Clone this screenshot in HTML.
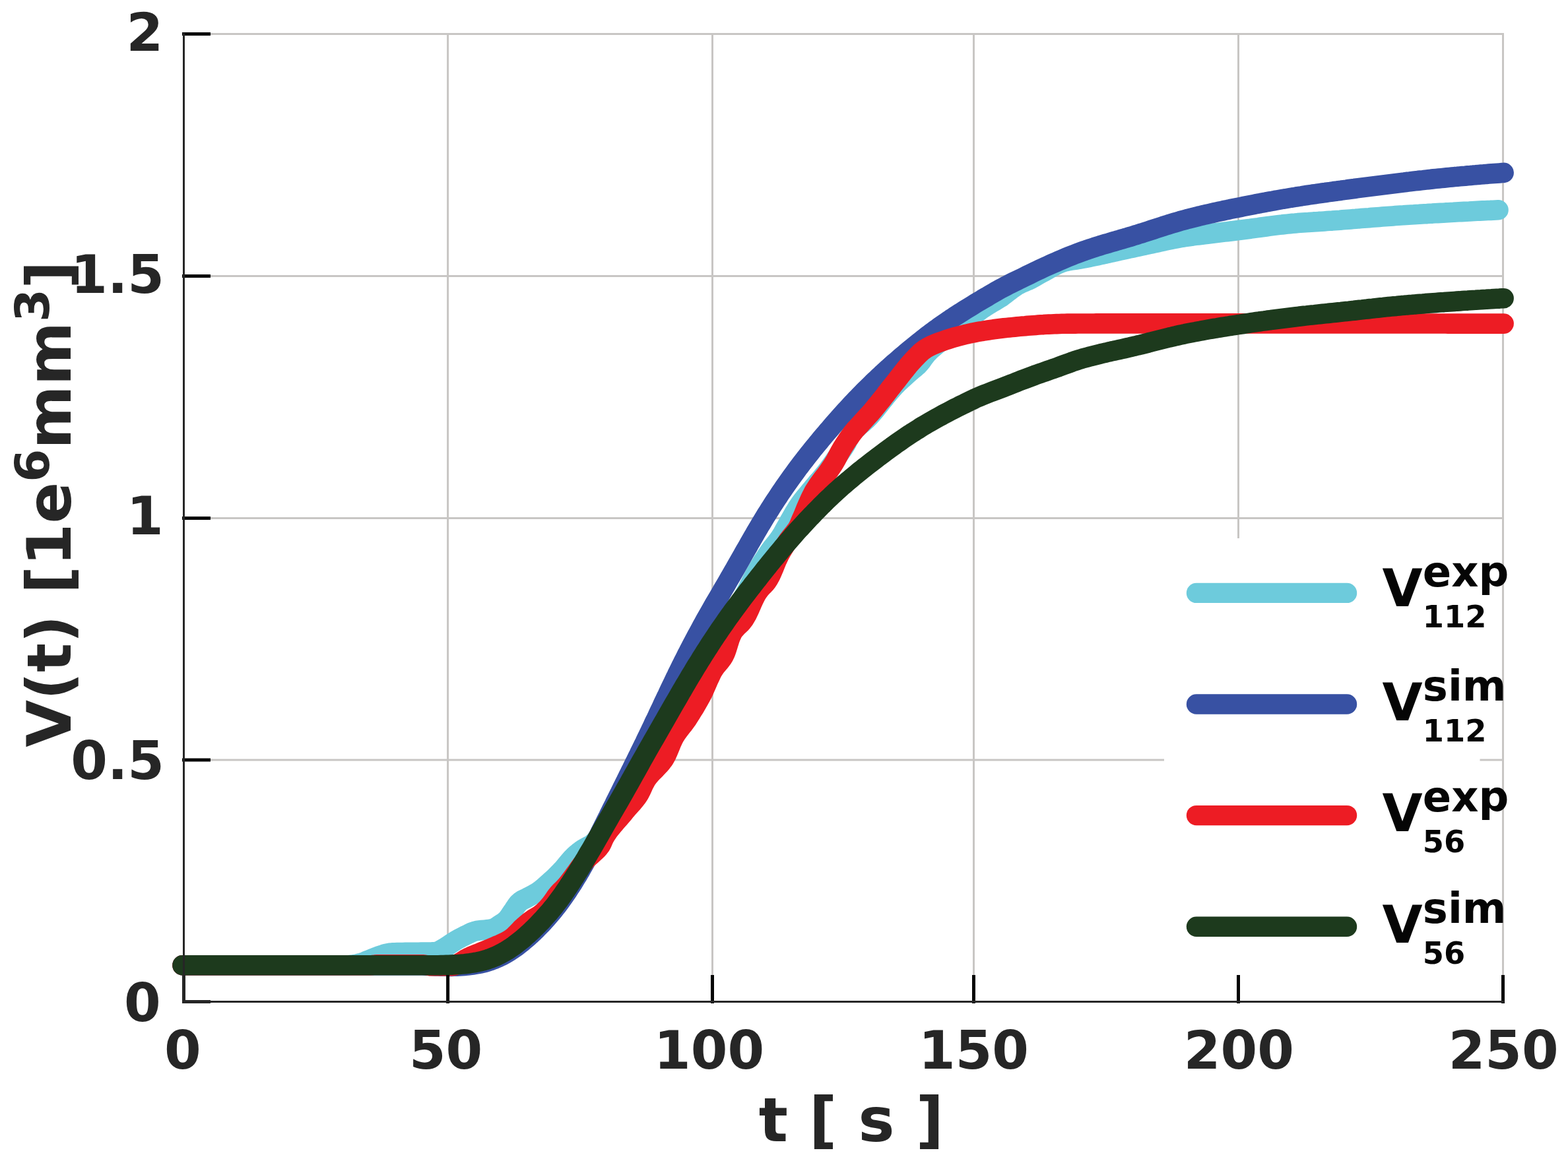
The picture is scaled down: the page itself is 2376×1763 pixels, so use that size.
<!DOCTYPE html>
<html lang="en"><head><meta charset="utf-8"><title>V(t) [1e6 mm3] over t [ s ]</title>
<style>
html,body{margin:0;padding:0;background:#fff;}
body{width:2376px;height:1763px;overflow:hidden;}
svg{display:block;}
text{font-family:"DejaVu Sans","Liberation Sans",sans-serif;font-weight:bold;}
.tl{font-size:80px;fill:#262626;}
.al{font-size:92.5px;fill:#262626;}
.lg{font-size:79px;fill:#050505;}
.crv{fill:none;stroke-width:30.6;stroke-linecap:round;stroke-linejoin:round;}
</style></head><body>
<svg xmlns="http://www.w3.org/2000/svg" width="2376" height="1763" viewBox="0 0 2376 1763">
<rect width="2376" height="1763" fill="#fff"/>
<g stroke="#c8c6c4" stroke-width="3" fill="none">
<line x1="278.5" y1="50.0" x2="278.5" y2="1518.5"/>
<line x1="678.6" y1="50.0" x2="678.6" y2="1518.5"/>
<line x1="1079.5" y1="50.0" x2="1079.5" y2="1518.5"/>
<line x1="1475.5" y1="50.0" x2="1475.5" y2="1518.5"/>
<line x1="1876.5" y1="50.0" x2="1876.5" y2="1518.5"/>
<line x1="2277.5" y1="50.0" x2="2277.5" y2="1518.5"/>
<line x1="278.5" y1="1518.5" x2="2279.0" y2="1518.5"/>
<line x1="278.5" y1="1152.0" x2="2279.0" y2="1152.0"/>
<line x1="278.5" y1="785.4" x2="2279.0" y2="785.4"/>
<line x1="278.5" y1="418.4" x2="2279.0" y2="418.4"/>
<line x1="278.5" y1="51.5" x2="2279.0" y2="51.5"/>
</g>
<g class="crv">
<path stroke="#6dcbdc" d="M276.5,1463.3 L400.0,1463.3 L525.0,1463.3 L529.0,1463.1 L533.0,1462.8 L537.0,1462.2 L540.9,1461.4 L544.8,1460.5 L548.6,1459.4 L552.4,1458.0 L556.1,1456.4 L559.8,1455.0 L563.6,1453.4 L567.3,1451.9 L571.0,1450.4 L574.8,1449.1 L578.6,1447.9 L582.4,1446.6 L586.3,1445.5 L590.3,1444.8 L594.2,1444.4 L598.2,1444.3 L602.2,1444.1 L606.2,1444.0 L610.2,1444.0 L614.2,1443.9 L618.3,1443.8 L622.3,1443.8 L626.3,1443.7 L630.3,1443.7 L634.3,1443.7 L638.3,1443.6 L642.3,1443.6 L646.3,1443.6 L650.3,1443.5 L654.4,1443.4 L658.4,1443.2 L662.3,1442.8 L666.0,1441.3 L669.5,1439.2 L673.0,1437.3 L676.4,1435.1 L679.7,1432.9 L683.1,1430.7 L686.4,1428.5 L689.8,1426.3 L693.3,1424.3 L696.8,1422.3 L700.3,1420.5 L703.9,1418.7 L707.5,1417.0 L711.2,1415.1 L714.8,1413.4 L718.6,1412.0 L722.4,1411.0 L726.3,1410.5 L730.3,1410.0 L734.3,1409.6 L738.4,1409.1 L742.4,1408.7 L746.3,1408.1 L749.9,1406.7 L753.3,1404.5 L756.7,1402.2 L760.2,1400.0 L763.6,1397.8 L766.6,1395.3 L769.3,1392.5 L771.7,1389.3 L773.9,1385.9 L776.1,1382.5 L778.5,1379.2 L780.7,1375.7 L783.0,1372.3 L785.5,1369.2 L788.3,1366.6 L791.6,1364.5 L795.2,1362.7 L798.9,1360.9 L802.5,1359.0 L806.0,1357.1 L809.6,1355.2 L813.0,1353.3 L816.4,1351.1 L819.6,1348.7 L822.7,1346.2 L825.7,1343.6 L828.8,1340.9 L831.8,1338.2 L834.7,1335.5 L837.7,1332.8 L840.6,1330.1 L843.5,1327.3 L846.3,1324.4 L849.1,1321.6 L851.9,1318.7 L854.5,1315.7 L857.1,1312.6 L859.7,1309.4 L862.3,1306.3 L864.9,1303.3 L867.6,1300.3 L870.3,1297.5 L873.3,1294.8 L876.4,1292.3 L879.6,1289.9 L882.9,1287.6 L886.3,1285.5 L889.9,1283.6 L893.6,1281.8 L896.8,1279.7 L899.5,1277.3 L902.1,1274.7 L904.6,1271.9 L907.0,1268.9 L909.2,1265.8 L911.4,1262.5 L913.5,1259.1 L915.5,1255.6 L917.5,1251.9 L919.4,1248.3 L921.3,1244.5 L923.2,1240.8 L925.1,1237.0 L926.9,1233.2 L928.8,1229.4 L930.7,1225.6 L932.6,1221.9 L934.6,1218.3 L936.6,1214.7 L938.6,1211.3 L940.7,1207.9 L942.8,1204.5 L944.9,1201.0 L947.0,1197.6 L949.1,1194.2 L951.2,1190.8 L953.3,1187.3 L955.3,1183.9 L957.4,1180.5 L959.5,1177.1 L961.6,1173.7 L963.7,1170.2 L965.8,1166.8 L967.9,1163.4 L969.9,1160.0 L972.0,1156.6 L974.1,1153.1 L976.2,1149.7 L978.3,1146.3 L980.4,1142.9 L982.4,1139.4 L984.5,1136.0 L986.6,1132.6 L988.7,1129.2 L990.8,1125.7 L992.9,1122.3 L994.9,1118.9 L997.0,1115.5 L999.1,1112.0 L1001.2,1108.6 L1003.3,1105.2 L1005.3,1101.8 L1007.4,1098.3 L1009.5,1094.9 L1011.6,1091.5 L1013.7,1088.1 L1015.8,1084.7 L1017.8,1081.2 L1019.9,1077.8 L1022.0,1074.4 L1024.1,1071.0 L1026.2,1067.5 L1028.3,1064.1 L1030.3,1060.7 L1032.4,1057.3 L1034.5,1053.8 L1036.6,1050.4 L1038.7,1047.0 L1040.8,1043.6 L1042.9,1040.2 L1044.9,1036.7 L1047.0,1033.3 L1049.1,1029.9 L1051.2,1026.5 L1053.3,1023.1 L1055.4,1019.6 L1057.5,1016.2 L1059.5,1012.8 L1061.6,1009.4 L1063.7,1005.9 L1065.8,1002.5 L1067.9,999.1 L1070.0,995.7 L1072.0,992.2 L1074.1,988.8 L1076.2,985.4 L1078.3,982.0 L1080.3,978.5 L1082.4,975.1 L1084.5,971.7 L1086.6,968.3 L1088.7,964.8 L1090.8,961.4 L1092.9,958.0 L1095.0,954.6 L1097.1,951.2 L1099.2,947.8 L1101.3,944.4 L1103.4,941.0 L1105.5,937.6 L1107.7,934.2 L1109.9,930.8 L1112.1,927.5 L1114.3,924.1 L1116.5,920.8 L1118.7,917.4 L1120.8,914.0 L1123.0,910.6 L1125.1,907.2 L1127.1,903.8 L1129.1,900.3 L1131.0,896.8 L1132.9,893.3 L1134.7,889.7 L1136.5,886.1 L1138.2,882.5 L1140.0,878.9 L1141.8,875.3 L1143.7,871.8 L1145.7,868.3 L1147.7,864.8 L1149.7,861.4 L1151.8,857.9 L1153.9,854.5 L1156.0,851.1 L1158.2,847.7 L1160.4,844.4 L1162.6,841.0 L1164.8,837.7 L1167.1,834.5 L1169.5,831.2 L1172.0,828.1 L1174.5,824.9 L1177.0,821.8 L1179.4,818.6 L1181.8,815.3 L1184.0,812.0 L1186.1,808.6 L1188.0,805.1 L1189.9,801.6 L1191.9,798.1 L1193.9,794.6 L1195.8,791.1 L1197.8,787.6 L1199.8,784.1 L1201.8,780.6 L1203.8,777.1 L1205.9,773.7 L1208.0,770.3 L1210.2,767.0 L1212.4,763.7 L1214.8,760.5 L1217.2,757.3 L1219.7,754.2 L1222.3,751.1 L1224.8,748.0 L1227.4,744.9 L1230.0,741.8 L1232.6,738.7 L1235.1,735.7 L1237.7,732.6 L1240.4,729.6 L1243.0,726.5 L1245.6,723.5 L1248.2,720.4 L1250.7,717.3 L1253.2,714.2 L1255.6,711.0 L1258.0,707.8 L1260.3,704.5 L1262.6,701.2 L1264.9,698.0 L1267.2,694.7 L1269.5,691.4 L1271.9,688.1 L1274.2,684.8 L1276.5,681.5 L1278.7,678.2 L1280.8,674.8 L1282.8,671.3 L1284.6,667.7 L1286.4,664.1 L1288.3,660.6 L1290.5,657.3 L1293.0,654.3 L1295.7,651.4 L1298.6,648.7 L1301.6,646.0 L1304.7,643.3 L1307.8,640.7 L1310.8,638.0 L1313.8,635.2 L1316.6,632.4 L1319.3,629.4 L1321.9,626.4 L1324.5,623.4 L1327.1,620.3 L1329.6,617.2 L1332.1,614.0 L1334.6,610.9 L1337.1,607.7 L1339.6,604.6 L1342.1,601.4 L1344.6,598.3 L1347.2,595.2 L1349.8,592.2 L1352.4,589.2 L1355.1,586.2 L1357.9,583.3 L1360.7,580.5 L1363.6,577.7 L1366.5,575.0 L1369.5,572.3 L1372.5,569.6 L1375.5,566.9 L1378.5,564.3 L1381.5,561.6 L1384.6,559.1 L1387.7,556.5 L1390.7,553.8 L1393.4,551.0 L1395.9,547.9 L1398.3,544.6 L1400.6,541.3 L1403.1,538.1 L1405.7,535.1 L1408.5,532.3 L1411.4,529.5 L1414.4,526.9 L1417.5,524.3 L1420.5,521.7 L1423.6,519.1 L1426.7,516.6 L1429.9,514.1 L1433.0,511.6 L1436.2,509.2 L1439.4,506.7 L1442.6,504.3 L1445.7,501.8 L1448.9,499.4 L1452.1,496.9 L1455.2,494.4 L1458.4,491.9 L1461.5,489.4 L1464.6,486.9 L1467.7,484.3 L1470.8,481.8 L1474.0,479.3 L1477.1,476.8 L1480.3,474.3 L1483.4,471.9 L1486.7,469.5 L1489.9,467.2 L1493.2,465.0 L1496.6,462.8 L1500.0,460.8 L1503.5,458.7 L1506.9,456.7 L1510.4,454.6 L1513.8,452.5 L1517.2,450.4 L1520.4,448.0 L1523.7,445.6 L1526.8,443.1 L1530.0,440.7 L1533.2,438.2 L1536.5,435.9 L1539.8,433.6 L1543.2,431.6 L1546.7,429.8 L1550.4,428.2 L1554.1,426.6 L1557.8,425.1 L1561.4,423.4 L1565.0,421.5 L1568.5,419.6 L1571.9,417.5 L1575.4,415.5 L1578.9,413.6 L1582.5,411.7 L1586.0,409.7 L1589.5,407.7 L1593.1,405.7 L1596.6,403.7 L1600.2,401.9 L1603.9,400.1 L1607.5,398.6 L1611.2,397.3 L1615.0,396.3 L1618.8,395.4 L1622.8,394.7 L1626.8,394.1 L1630.8,393.5 L1634.8,392.9 L1638.7,392.2 L1642.7,391.5 L1646.6,390.7 L1650.5,389.9 L1654.5,389.1 L1658.4,388.3 L1662.3,387.5 L1666.2,386.6 L1670.1,385.8 L1674.0,384.9 L1678.0,384.1 L1681.9,383.2 L1685.8,382.3 L1689.7,381.4 L1693.6,380.6 L1697.5,379.7 L1701.4,378.8 L1705.3,378.0 L1709.3,377.1 L1713.2,376.2 L1717.1,375.4 L1721.0,374.6 L1724.9,373.8 L1728.9,372.9 L1732.8,372.1 L1736.7,371.2 L1740.6,370.3 L1744.5,369.5 L1748.4,368.6 L1752.4,367.7 L1756.3,366.9 L1760.2,366.0 L1764.1,365.2 L1768.0,364.3 L1772.0,363.5 L1775.9,362.7 L1779.8,362.0 L1783.8,361.2 L1787.7,360.5 L1791.6,359.8 L1795.6,359.2 L1799.5,358.6 L1803.5,358.0 L1807.5,357.5 L1811.4,356.9 L1815.4,356.5 L1819.4,356.0 L1823.4,355.5 L1827.4,355.1 L1831.4,354.6 L1835.3,354.1 L1839.3,353.6 L1843.3,353.1 L1847.3,352.6 L1851.2,352.1 L1855.2,351.6 L1859.2,351.2 L1863.2,350.7 L1867.2,350.2 L1871.1,349.7 L1875.1,349.2 L1879.1,348.7 L1883.1,348.2 L1887.0,347.7 L1891.0,347.2 L1895.0,346.7 L1899.0,346.1 L1902.9,345.6 L1906.9,345.1 L1910.9,344.5 L1914.9,344.0 L1918.8,343.5 L1922.8,342.9 L1926.8,342.4 L1930.8,341.9 L1934.7,341.4 L1938.7,340.9 L1942.7,340.5 L1946.7,340.0 L1950.6,339.6 L1954.6,339.2 L1958.6,338.8 L1962.6,338.5 L1966.6,338.1 L1970.6,337.8 L1974.6,337.5 L1978.6,337.2 L1982.6,337.0 L1986.6,336.7 L1990.6,336.4 L1994.6,336.2 L1998.6,335.9 L2002.6,335.7 L2006.6,335.4 L2010.6,335.1 L2014.6,334.8 L2018.6,334.6 L2022.6,334.3 L2026.6,334.0 L2030.6,333.7 L2034.6,333.3 L2038.6,333.0 L2042.6,332.7 L2046.5,332.4 L2050.5,332.1 L2054.5,331.8 L2058.5,331.4 L2062.5,331.1 L2066.5,330.8 L2070.5,330.5 L2074.5,330.2 L2078.5,329.8 L2082.5,329.5 L2086.5,329.2 L2090.5,328.9 L2094.5,328.6 L2098.5,328.3 L2102.5,328.0 L2106.5,327.7 L2110.5,327.4 L2114.5,327.1 L2118.5,326.8 L2122.5,326.5 L2126.5,326.3 L2130.5,326.0 L2134.5,325.7 L2138.5,325.5 L2142.5,325.3 L2146.5,325.0 L2150.5,324.8 L2154.5,324.5 L2158.5,324.3 L2162.5,324.1 L2166.5,323.8 L2170.5,323.6 L2174.5,323.3 L2178.5,323.1 L2182.5,322.9 L2186.5,322.7 L2190.5,322.4 L2194.5,322.2 L2198.5,322.0 L2202.5,321.8 L2206.5,321.5 L2210.5,321.3 L2214.5,321.1 L2218.5,320.9 L2222.5,320.7 L2226.5,320.5 L2230.5,320.2 L2234.5,320.0 L2238.5,319.8 L2242.5,319.6 L2246.5,319.4 L2250.5,319.2 L2254.5,319.0 L2258.5,318.9 L2262.5,318.7 L2266.5,318.5 L2270.5,318.3"/>
<path stroke="#3851a3" d="M276.5,1463.3 L400.0,1463.3 L560.0,1463.3 L640.0,1463.3 L644.0,1463.5 L648.0,1463.8 L652.0,1464.0 L656.0,1464.2 L660.1,1464.4 L664.1,1464.5 L668.1,1464.7 L672.1,1464.8 L676.1,1464.8 L680.1,1464.9 L684.2,1464.9 L688.2,1464.8 L692.2,1464.7 L696.2,1464.5 L700.2,1464.2 L704.2,1463.9 L708.2,1463.6 L712.2,1463.1 L716.2,1462.6 L720.1,1462.0 L724.1,1461.3 L728.0,1460.5 L731.9,1459.6 L735.8,1458.6 L739.6,1457.4 L743.4,1456.2 L747.1,1454.8 L750.8,1453.3 L754.5,1451.7 L758.1,1450.0 L761.7,1448.2 L765.2,1446.3 L768.6,1444.3 L772.0,1442.2 L775.4,1440.0 L778.7,1437.7 L782.0,1435.4 L785.2,1433.0 L788.4,1430.5 L791.5,1428.0 L794.6,1425.4 L797.7,1422.8 L800.7,1420.2 L803.7,1417.5 L806.6,1414.7 L809.5,1412.0 L812.4,1409.1 L815.2,1406.3 L818.0,1403.4 L820.8,1400.5 L823.6,1397.6 L826.3,1394.6 L829.0,1391.6 L831.6,1388.6 L834.2,1385.5 L836.8,1382.5 L839.3,1379.4 L841.8,1376.2 L844.3,1373.0 L846.7,1369.8 L849.1,1366.6 L851.4,1363.4 L853.8,1360.1 L856.0,1356.8 L858.3,1353.5 L860.5,1350.2 L862.7,1346.8 L864.9,1343.4 L867.1,1340.1 L869.2,1336.7 L871.3,1333.2 L873.4,1329.8 L875.5,1326.4 L877.5,1322.9 L879.6,1319.5 L881.5,1316.0 L883.5,1312.5 L885.5,1309.0 L887.4,1305.5 L889.3,1301.9 L891.2,1298.4 L893.1,1294.8 L894.9,1291.3 L896.8,1287.7 L898.6,1284.2 L900.4,1280.6 L902.2,1277.0 L904.1,1273.4 L905.9,1269.8 L907.7,1266.3 L909.4,1262.7 L911.2,1259.1 L913.0,1255.5 L914.8,1251.9 L916.6,1248.3 L918.4,1244.7 L920.2,1241.1 L922.0,1237.5 L923.7,1233.9 L925.5,1230.3 L927.3,1226.7 L929.1,1223.1 L930.9,1219.5 L932.6,1215.9 L934.4,1212.3 L936.2,1208.8 L938.0,1205.2 L939.8,1201.6 L941.5,1198.0 L943.3,1194.4 L945.1,1190.8 L946.9,1187.2 L948.7,1183.6 L950.4,1180.0 L952.2,1176.4 L954.0,1172.8 L955.8,1169.2 L957.6,1165.6 L959.3,1162.0 L961.1,1158.4 L962.9,1154.8 L964.7,1151.2 L966.4,1147.6 L968.2,1144.0 L969.9,1140.4 L971.7,1136.8 L973.5,1133.2 L975.2,1129.6 L977.0,1126.0 L978.7,1122.4 L980.4,1118.8 L982.2,1115.1 L983.9,1111.5 L985.7,1107.9 L987.4,1104.3 L989.1,1100.7 L990.8,1097.0 L992.5,1093.4 L994.3,1089.8 L996.0,1086.2 L997.7,1082.5 L999.4,1078.9 L1001.1,1075.3 L1002.8,1071.7 L1004.5,1068.0 L1006.2,1064.4 L1007.9,1060.8 L1009.6,1057.1 L1011.4,1053.5 L1013.1,1049.9 L1014.8,1046.2 L1016.5,1042.6 L1018.2,1039.0 L1020.0,1035.4 L1021.7,1031.8 L1023.4,1028.1 L1025.2,1024.5 L1026.9,1020.9 L1028.7,1017.3 L1030.5,1013.7 L1032.2,1010.1 L1034.0,1006.5 L1035.8,1002.9 L1037.6,999.4 L1039.4,995.8 L1041.2,992.2 L1043.1,988.6 L1044.9,985.1 L1046.7,981.5 L1048.6,977.9 L1050.4,974.4 L1052.3,970.8 L1054.2,967.3 L1056.1,963.7 L1058.0,960.2 L1059.9,956.7 L1061.8,953.2 L1063.7,949.6 L1065.7,946.1 L1067.6,942.6 L1069.5,939.1 L1071.5,935.6 L1073.5,932.1 L1075.5,928.6 L1077.5,925.1 L1079.4,921.7 L1081.4,918.2 L1083.4,914.7 L1085.5,911.2 L1087.5,907.8 L1089.5,904.3 L1091.5,900.8 L1093.5,897.4 L1095.5,893.9 L1097.6,890.4 L1099.6,887.0 L1101.6,883.5 L1103.6,880.0 L1105.6,876.6 L1107.6,873.1 L1109.6,869.6 L1111.6,866.1 L1113.6,862.7 L1115.6,859.2 L1117.6,855.7 L1119.6,852.2 L1121.6,848.7 L1123.6,845.2 L1125.5,841.7 L1127.5,838.2 L1129.5,834.7 L1131.5,831.3 L1133.5,827.8 L1135.4,824.3 L1137.4,820.8 L1139.4,817.3 L1141.4,813.8 L1143.4,810.4 L1145.4,806.9 L1147.5,803.4 L1149.5,800.0 L1151.5,796.5 L1153.6,793.1 L1155.7,789.6 L1157.7,786.2 L1159.8,782.8 L1161.9,779.4 L1164.1,776.0 L1166.2,772.6 L1168.3,769.2 L1170.5,765.8 L1172.7,762.4 L1174.9,759.1 L1177.1,755.7 L1179.3,752.4 L1181.5,749.0 L1183.7,745.7 L1186.0,742.4 L1188.3,739.1 L1190.6,735.8 L1192.9,732.5 L1195.2,729.2 L1197.5,725.9 L1199.8,722.7 L1202.2,719.4 L1204.6,716.2 L1206.9,713.0 L1209.3,709.7 L1211.8,706.5 L1214.2,703.3 L1216.6,700.2 L1219.1,697.0 L1221.5,693.8 L1224.0,690.7 L1226.5,687.5 L1229.0,684.4 L1231.5,681.2 L1234.0,678.1 L1236.6,675.0 L1239.1,671.9 L1241.7,668.8 L1244.2,665.7 L1246.8,662.6 L1249.4,659.6 L1252.0,656.5 L1254.6,653.4 L1257.2,650.4 L1259.8,647.3 L1262.4,644.3 L1265.1,641.3 L1267.7,638.3 L1270.4,635.3 L1273.0,632.3 L1275.7,629.3 L1278.4,626.3 L1281.1,623.3 L1283.8,620.4 L1286.5,617.4 L1289.2,614.5 L1292.0,611.5 L1294.7,608.6 L1297.5,605.7 L1300.3,602.8 L1303.1,599.9 L1305.9,597.1 L1308.7,594.2 L1311.5,591.4 L1314.4,588.5 L1317.2,585.7 L1320.1,582.9 L1323.0,580.1 L1325.9,577.3 L1328.8,574.6 L1331.7,571.8 L1334.6,569.1 L1337.5,566.3 L1340.5,563.6 L1343.5,560.9 L1346.4,558.2 L1349.4,555.6 L1352.4,552.9 L1355.4,550.2 L1358.5,547.6 L1361.5,545.0 L1364.5,542.4 L1367.6,539.8 L1370.7,537.2 L1373.7,534.6 L1376.8,532.0 L1379.9,529.5 L1383.0,526.9 L1386.1,524.4 L1389.2,521.9 L1392.4,519.4 L1395.5,516.9 L1398.7,514.4 L1401.8,511.9 L1405.0,509.4 L1408.2,507.0 L1411.4,504.6 L1414.6,502.2 L1417.8,499.8 L1421.1,497.5 L1424.3,495.1 L1427.6,492.8 L1430.9,490.5 L1434.2,488.2 L1437.5,486.0 L1440.8,483.7 L1444.2,481.5 L1447.5,479.3 L1450.9,477.1 L1454.3,474.9 L1457.6,472.8 L1461.0,470.6 L1464.4,468.5 L1467.8,466.4 L1471.3,464.3 L1474.7,462.2 L1478.1,460.1 L1481.5,458.0 L1485.0,456.0 L1488.4,453.9 L1491.9,451.9 L1495.4,449.9 L1498.8,447.8 L1502.3,445.8 L1505.8,443.8 L1509.2,441.8 L1512.7,439.8 L1516.2,437.8 L1520.2,435.7 L1524.2,433.6 L1528.2,431.5 L1532.2,429.5 L1536.2,427.5 L1540.2,425.6 L1544.2,423.6 L1548.2,421.7 L1552.2,419.8 L1556.2,417.8 L1560.2,415.9 L1564.2,413.9 L1568.2,411.9 L1572.2,410.0 L1576.2,408.1 L1580.2,406.2 L1584.2,404.4 L1588.2,402.6 L1592.2,400.8 L1596.2,399.0 L1600.2,397.3 L1604.2,395.5 L1608.2,393.8 L1612.2,392.1 L1616.2,390.4 L1620.2,388.8 L1624.2,387.2 L1628.2,385.6 L1632.2,384.1 L1636.2,382.6 L1640.2,381.1 L1644.2,379.7 L1648.2,378.4 L1652.2,377.0 L1656.2,375.7 L1660.2,374.4 L1664.2,373.2 L1668.2,371.9 L1672.2,370.7 L1676.2,369.5 L1680.2,368.4 L1684.2,367.2 L1688.2,366.0 L1692.2,364.8 L1696.2,363.7 L1700.2,362.5 L1704.2,361.3 L1708.2,360.2 L1712.2,359.0 L1716.2,357.8 L1720.2,356.5 L1724.2,355.3 L1728.2,354.0 L1732.2,352.8 L1736.2,351.5 L1740.2,350.2 L1744.2,348.9 L1748.2,347.6 L1752.2,346.3 L1756.2,345.0 L1760.2,343.7 L1764.2,342.4 L1768.2,341.2 L1772.2,339.9 L1776.2,338.7 L1780.2,337.5 L1784.2,336.3 L1788.2,335.1 L1792.2,334.0 L1796.2,332.9 L1800.2,331.8 L1804.2,330.8 L1808.2,329.8 L1812.2,328.8 L1816.2,327.8 L1820.2,326.9 L1824.2,325.9 L1828.2,325.0 L1832.2,324.1 L1836.2,323.2 L1840.2,322.3 L1844.2,321.4 L1848.2,320.5 L1852.2,319.7 L1856.2,318.8 L1860.2,318.0 L1864.2,317.1 L1868.2,316.3 L1872.2,315.5 L1876.2,314.7 L1880.2,313.9 L1884.2,313.1 L1888.2,312.3 L1892.2,311.5 L1896.2,310.7 L1900.2,309.9 L1904.2,309.1 L1908.2,308.4 L1912.2,307.6 L1916.2,306.9 L1920.2,306.1 L1924.2,305.4 L1928.2,304.7 L1932.2,303.9 L1936.2,303.2 L1940.2,302.5 L1944.2,301.8 L1948.2,301.2 L1952.2,300.5 L1956.2,299.8 L1960.2,299.2 L1964.2,298.5 L1968.2,297.9 L1972.2,297.3 L1976.2,296.6 L1980.2,296.0 L1984.2,295.4 L1988.2,294.8 L1992.2,294.3 L1996.2,293.7 L2000.2,293.1 L2004.2,292.5 L2008.2,292.0 L2012.2,291.4 L2016.2,290.9 L2020.2,290.3 L2024.2,289.8 L2028.2,289.2 L2032.2,288.7 L2036.2,288.1 L2040.2,287.6 L2044.2,287.0 L2048.2,286.5 L2052.2,286.0 L2056.2,285.4 L2060.2,284.9 L2064.2,284.4 L2068.2,283.9 L2072.2,283.4 L2076.2,282.9 L2080.2,282.4 L2084.2,281.9 L2088.2,281.4 L2092.2,280.9 L2096.2,280.4 L2100.2,279.9 L2104.2,279.4 L2108.2,278.9 L2112.2,278.4 L2116.2,277.9 L2120.2,277.4 L2124.2,276.9 L2128.2,276.4 L2132.2,275.8 L2136.2,275.4 L2140.2,274.9 L2144.2,274.4 L2148.2,274.0 L2152.2,273.5 L2156.2,273.1 L2160.2,272.6 L2164.2,272.2 L2168.2,271.8 L2172.2,271.3 L2176.2,270.9 L2180.2,270.5 L2184.2,270.1 L2188.2,269.7 L2192.2,269.3 L2196.2,268.9 L2200.2,268.5 L2204.2,268.1 L2208.2,267.8 L2212.2,267.4 L2216.2,267.0 L2220.2,266.7 L2224.2,266.3 L2228.2,266.0 L2232.2,265.6 L2236.2,265.3 L2240.2,264.9 L2244.2,264.6 L2248.2,264.3 L2252.2,263.9 L2256.2,263.6 L2260.2,263.3 L2264.2,263.0 L2268.2,262.7 L2272.2,262.4 L2276.2,262.1 L2278.6,261.9"/>
<path stroke="#ed1c24" d="M276.5,1463.3 L400.0,1463.3 L560.0,1463.3 L564.0,1463.0 L568.0,1462.6 L572.0,1462.4 L576.0,1462.3 L580.0,1462.3 L584.0,1462.3 L588.0,1462.3 L592.0,1462.3 L596.0,1462.3 L600.1,1462.3 L604.1,1462.3 L608.1,1462.3 L612.1,1462.3 L616.1,1462.3 L620.1,1462.3 L624.1,1462.3 L628.1,1462.3 L632.1,1462.3 L636.1,1462.3 L640.1,1462.3 L644.1,1462.7 L648.1,1463.4 L652.0,1464.1 L656.0,1464.3 L660.0,1464.3 L664.1,1464.3 L668.2,1464.3 L672.2,1464.3 L676.2,1464.3 L680.2,1464.3 L684.1,1464.3 L688.0,1463.8 L691.7,1462.2 L695.4,1460.3 L698.8,1458.3 L702.1,1456.0 L705.5,1453.8 L709.0,1452.0 L712.7,1450.3 L716.4,1448.8 L720.1,1447.3 L723.8,1445.8 L727.5,1444.2 L731.2,1442.7 L735.0,1441.2 L738.7,1439.7 L742.4,1438.2 L746.1,1436.6 L749.8,1435.0 L753.5,1433.4 L757.2,1431.9 L760.9,1430.2 L764.6,1428.5 L768.1,1426.7 L771.5,1424.7 L774.7,1422.6 L777.8,1420.1 L780.7,1417.4 L783.6,1414.5 L786.4,1411.6 L789.2,1408.6 L792.1,1405.8 L795.1,1403.1 L798.2,1400.5 L801.3,1397.9 L804.4,1395.5 L807.7,1393.2 L811.2,1391.1 L814.7,1389.1 L818.0,1387.0 L821.1,1384.5 L824.1,1381.9 L827.0,1379.1 L829.8,1376.1 L832.5,1373.1 L835.0,1370.1 L837.4,1366.8 L839.7,1363.5 L841.9,1360.2 L844.3,1357.0 L846.9,1353.9 L849.7,1351.0 L852.5,1348.2 L855.4,1345.3 L858.1,1342.4 L860.7,1339.3 L863.1,1336.2 L865.5,1333.0 L867.9,1329.7 L870.3,1326.5 L872.7,1323.3 L875.0,1320.0 L877.3,1316.7 L879.7,1313.5 L882.1,1310.3 L884.6,1307.2 L887.3,1304.2 L890.1,1301.4 L893.2,1298.6 L896.3,1295.9 L899.3,1293.2 L902.3,1290.5 L905.1,1287.7 L907.7,1284.7 L910.0,1281.6 L911.9,1278.1 L913.5,1274.4 L915.2,1270.7 L917.1,1267.2 L919.2,1263.9 L921.5,1260.6 L923.8,1257.4 L926.3,1254.3 L928.9,1251.2 L931.5,1248.1 L934.1,1245.0 L936.8,1242.0 L939.5,1239.0 L942.1,1235.9 L944.7,1232.8 L947.2,1229.7 L949.8,1226.6 L952.5,1223.6 L955.2,1220.6 L957.9,1217.6 L960.5,1214.5 L963.0,1211.4 L965.4,1208.2 L967.6,1204.9 L969.6,1201.5 L971.4,1197.9 L973.1,1194.2 L974.7,1190.5 L976.5,1186.9 L978.4,1183.4 L980.5,1180.1 L982.9,1177.0 L985.5,1173.9 L988.3,1170.9 L991.1,1168.0 L994.0,1165.1 L996.8,1162.1 L999.6,1159.2 L1002.2,1156.1 L1004.6,1153.0 L1006.8,1149.8 L1008.7,1146.4 L1010.5,1142.8 L1012.1,1139.1 L1013.6,1135.4 L1015.2,1131.6 L1016.7,1127.8 L1018.3,1124.1 L1020.0,1120.5 L1021.8,1117.0 L1023.9,1113.6 L1026.2,1110.3 L1028.5,1107.1 L1031.0,1103.9 L1033.5,1100.7 L1036.0,1097.6 L1038.4,1094.3 L1040.7,1091.1 L1042.9,1087.7 L1045.1,1084.3 L1047.2,1081.0 L1049.3,1077.5 L1051.4,1074.1 L1053.5,1070.7 L1055.5,1067.2 L1057.5,1063.7 L1059.5,1060.2 L1061.4,1056.7 L1063.3,1053.2 L1065.1,1049.6 L1066.8,1046.0 L1068.4,1042.3 L1070.0,1038.6 L1071.6,1034.9 L1073.2,1031.2 L1074.9,1027.5 L1076.6,1023.9 L1078.3,1020.3 L1080.2,1016.8 L1082.3,1013.5 L1084.6,1010.2 L1087.2,1007.1 L1089.9,1004.0 L1092.4,1000.8 L1094.8,997.6 L1096.8,994.3 L1098.5,990.7 L1100.0,987.0 L1101.3,983.1 L1102.5,979.2 L1103.7,975.3 L1104.9,971.4 L1106.2,967.5 L1107.7,963.8 L1109.3,960.3 L1111.2,956.9 L1113.6,953.9 L1116.3,950.9 L1119.3,948.1 L1122.3,945.2 L1125.0,942.2 L1127.3,939.1 L1129.4,935.7 L1131.4,932.3 L1133.2,928.7 L1134.9,925.0 L1136.6,921.3 L1138.2,917.6 L1139.8,913.8 L1141.5,910.1 L1143.3,906.5 L1145.1,902.9 L1147.0,899.5 L1149.2,896.2 L1151.6,893.0 L1154.3,890.0 L1157.2,887.1 L1160.0,884.2 L1162.4,881.1 L1164.5,877.8 L1166.4,874.4 L1168.2,870.8 L1169.8,867.2 L1171.4,863.5 L1173.0,859.7 L1174.5,855.9 L1176.0,852.2 L1177.6,848.5 L1179.3,844.8 L1181.1,841.2 L1183.0,837.7 L1185.0,834.2 L1187.1,830.8 L1189.2,827.3 L1191.3,823.9 L1193.5,820.6 L1195.7,817.3 L1198.2,814.1 L1200.7,811.0 L1203.3,807.8 L1205.8,804.7 L1208.1,801.4 L1210.0,798.0 L1211.7,794.3 L1213.2,790.6 L1214.8,786.9 L1216.4,783.2 L1218.0,779.5 L1219.5,775.8 L1221.0,772.1 L1222.6,768.3 L1224.2,764.6 L1225.8,761.0 L1227.4,757.3 L1229.1,753.7 L1230.9,750.2 L1232.7,746.7 L1234.7,743.2 L1236.8,739.9 L1239.0,736.5 L1241.3,733.2 L1243.7,730.0 L1246.1,726.8 L1248.5,723.5 L1251.0,720.3 L1253.4,717.1 L1255.8,713.9 L1258.1,710.6 L1260.4,707.3 L1262.6,703.9 L1264.7,700.5 L1266.7,697.0 L1268.5,693.5 L1270.4,689.9 L1272.2,686.4 L1274.2,682.9 L1276.2,679.4 L1278.3,676.0 L1280.5,672.6 L1282.7,669.3 L1284.9,665.9 L1287.3,662.7 L1289.6,659.4 L1292.0,656.2 L1294.5,653.1 L1297.1,650.1 L1299.9,647.1 L1302.6,644.2 L1305.3,641.2 L1308.0,638.3 L1310.7,635.3 L1313.4,632.3 L1316.1,629.4 L1318.8,626.4 L1321.4,623.4 L1324.0,620.3 L1326.6,617.2 L1329.1,614.1 L1331.6,611.0 L1334.1,607.9 L1336.6,604.8 L1339.1,601.6 L1341.6,598.5 L1344.0,595.3 L1346.5,592.1 L1348.9,588.9 L1351.4,585.8 L1353.9,582.6 L1356.4,579.5 L1358.9,576.4 L1361.4,573.2 L1363.8,570.0 L1366.3,566.9 L1368.8,563.7 L1371.3,560.5 L1373.8,557.4 L1376.3,554.3 L1378.9,551.3 L1381.6,548.3 L1384.3,545.3 L1387.0,542.4 L1389.9,539.5 L1392.7,536.6 L1395.7,533.8 L1398.7,531.3 L1401.9,529.0 L1405.2,527.0 L1408.7,525.1 L1412.3,523.4 L1416.1,521.7 L1419.8,520.2 L1423.6,518.7 L1427.5,517.4 L1431.2,516.1 L1435.0,514.8 L1438.8,513.6 L1442.7,512.4 L1446.5,511.3 L1450.4,510.2 L1454.3,509.2 L1458.2,508.2 L1462.1,507.2 L1466.0,506.3 L1469.9,505.4 L1473.8,504.6 L1477.7,503.9 L1481.7,503.1 L1485.6,502.4 L1489.6,501.8 L1493.5,501.1 L1497.5,500.5 L1501.5,499.9 L1505.4,499.3 L1509.4,498.8 L1513.4,498.3 L1517.4,497.8 L1521.4,497.3 L1525.3,496.9 L1529.3,496.5 L1533.3,496.1 L1537.3,495.7 L1541.3,495.3 L1545.3,494.9 L1549.3,494.5 L1553.3,494.2 L1557.3,493.8 L1561.3,493.5 L1565.3,493.2 L1569.3,492.9 L1573.3,492.6 L1577.3,492.3 L1581.3,492.1 L1585.3,491.8 L1589.3,491.6 L1593.3,491.5 L1597.3,491.3 L1601.3,491.1 L1605.3,491.0 L1609.3,490.8 L1613.3,490.7 L1617.3,490.6 L1621.3,490.6 L1625.3,490.6 L1629.3,490.6 L1633.3,490.5 L1637.3,490.5 L1641.3,490.5 L1645.3,490.5 L1649.4,490.5 L1653.4,490.5 L1657.4,490.5 L1661.4,490.4 L1665.4,490.4 L1669.4,490.4 L1673.4,490.4 L1677.4,490.4 L1681.4,490.4 L1685.4,490.4 L1689.4,490.4 L1693.4,490.4 L1697.5,490.4 L1701.5,490.4 L1705.5,490.4 L1709.5,490.4 L1713.5,490.4 L1717.5,490.4 L1721.5,490.4 L1725.5,490.4 L1729.5,490.4 L1733.5,490.4 L1737.5,490.4 L1741.5,490.4 L1745.5,490.4 L1749.6,490.4 L1753.6,490.4 L1757.6,490.4 L1761.6,490.4 L1765.6,490.4 L1769.6,490.4 L1773.6,490.4 L1777.6,490.4 L1781.6,490.4 L1785.6,490.4 L1789.6,490.4 L1793.6,490.4 L1797.6,490.4 L1801.7,490.4 L1805.7,490.4 L1809.7,490.4 L1813.7,490.4 L1817.7,490.4 L1821.7,490.4 L1825.7,490.4 L1829.7,490.4 L1833.7,490.4 L1837.7,490.4 L1841.7,490.4 L1845.7,490.4 L1849.8,490.4 L1853.8,490.4 L1857.8,490.4 L1861.8,490.4 L1865.8,490.4 L1869.8,490.4 L1873.8,490.4 L1877.8,490.4 L1881.8,490.4 L1885.8,490.4 L1889.8,490.4 L1893.8,490.4 L1897.8,490.4 L1901.9,490.4 L1905.9,490.4 L1909.9,490.4 L1913.9,490.4 L1917.9,490.4 L1921.9,490.4 L1925.9,490.4 L1929.9,490.4 L1933.9,490.4 L1937.9,490.4 L1941.9,490.4 L1945.9,490.4 L1950.0,490.4 L1954.0,490.4 L1958.0,490.4 L1962.0,490.4 L1966.0,490.4 L1970.0,490.4 L1974.0,490.4 L1978.0,490.4 L1982.0,490.4 L1986.0,490.4 L1990.0,490.4 L1994.0,490.4 L1998.0,490.4 L2002.1,490.4 L2006.1,490.4 L2010.1,490.4 L2014.1,490.4 L2018.1,490.4 L2022.1,490.5 L2026.1,490.5 L2030.1,490.5 L2034.1,490.5 L2038.1,490.5 L2042.1,490.5 L2046.1,490.5 L2050.1,490.5 L2054.2,490.5 L2058.2,490.5 L2062.2,490.5 L2066.2,490.5 L2070.2,490.5 L2074.2,490.5 L2078.2,490.5 L2082.2,490.5 L2086.2,490.5 L2090.2,490.5 L2094.2,490.5 L2098.2,490.5 L2102.3,490.5 L2106.3,490.5 L2110.3,490.5 L2114.3,490.5 L2118.3,490.5 L2122.3,490.5 L2126.3,490.5 L2130.3,490.5 L2134.3,490.5 L2138.3,490.5 L2142.3,490.5 L2146.3,490.5 L2150.3,490.5 L2154.4,490.5 L2158.4,490.5 L2162.4,490.5 L2166.4,490.5 L2170.4,490.5 L2174.4,490.5 L2178.4,490.5 L2182.4,490.5 L2186.4,490.5 L2190.4,490.5 L2194.4,490.6 L2198.4,490.6 L2202.4,490.6 L2206.5,490.6 L2210.5,490.6 L2214.5,490.6 L2218.5,490.6 L2222.5,490.6 L2226.5,490.6 L2230.5,490.6 L2234.5,490.6 L2238.5,490.6 L2242.5,490.6 L2246.5,490.6 L2250.5,490.6 L2254.6,490.6 L2258.6,490.6 L2262.6,490.6 L2266.6,490.6 L2270.6,490.6 L2274.6,490.6 L2278.6,490.6"/>
<path stroke="#1d3a1d" d="M276.5,1463.3 L400.0,1463.3 L560.0,1463.3 L660.0,1463.3 L664.0,1463.2 L668.1,1463.1 L672.1,1463.0 L676.1,1462.9 L680.1,1462.8 L684.2,1462.6 L688.2,1462.4 L692.2,1462.2 L696.2,1461.9 L700.3,1461.6 L704.3,1461.2 L708.3,1460.7 L712.3,1460.2 L716.2,1459.6 L720.2,1459.0 L724.1,1458.2 L728.0,1457.3 L731.9,1456.4 L735.8,1455.3 L739.6,1454.1 L743.4,1452.8 L747.1,1451.3 L750.8,1449.8 L754.4,1448.1 L758.0,1446.3 L761.5,1444.4 L765.0,1442.5 L768.5,1440.4 L771.8,1438.2 L775.2,1436.0 L778.5,1433.7 L781.7,1431.3 L784.9,1428.8 L788.1,1426.3 L791.2,1423.8 L794.3,1421.2 L797.3,1418.5 L800.3,1415.9 L803.3,1413.1 L806.2,1410.4 L809.1,1407.5 L812.0,1404.7 L814.8,1401.8 L817.6,1398.9 L820.4,1396.0 L823.1,1393.1 L825.8,1390.1 L828.5,1387.1 L831.2,1384.1 L833.8,1381.0 L836.3,1377.9 L838.9,1374.8 L841.4,1371.6 L843.8,1368.4 L846.2,1365.2 L848.6,1362.0 L851.0,1358.7 L853.3,1355.4 L855.6,1352.1 L857.9,1348.8 L860.1,1345.5 L862.3,1342.1 L864.6,1338.8 L866.7,1335.4 L868.9,1332.0 L871.1,1328.6 L873.2,1325.2 L875.4,1321.8 L877.5,1318.4 L879.6,1315.0 L881.7,1311.5 L883.8,1308.1 L885.8,1304.6 L887.9,1301.2 L889.9,1297.7 L891.9,1294.2 L893.9,1290.8 L896.0,1287.3 L898.0,1283.8 L900.0,1280.3 L902.0,1276.8 L904.0,1273.3 L906.0,1269.8 L908.0,1266.4 L910.0,1262.9 L912.0,1259.4 L914.0,1255.9 L916.0,1252.4 L918.0,1248.9 L920.0,1245.4 L922.0,1242.0 L924.0,1238.5 L926.0,1235.0 L928.0,1231.5 L930.1,1228.0 L932.1,1224.5 L934.1,1221.1 L936.1,1217.6 L938.1,1214.1 L940.1,1210.6 L942.1,1207.1 L944.1,1203.6 L946.1,1200.1 L948.0,1196.6 L950.0,1193.1 L952.0,1189.6 L954.0,1186.1 L955.9,1182.6 L957.9,1179.1 L959.8,1175.6 L961.8,1172.1 L963.8,1168.6 L965.7,1165.1 L967.7,1161.6 L969.7,1158.0 L971.6,1154.5 L973.6,1151.0 L975.6,1147.5 L977.6,1144.0 L979.5,1140.5 L981.5,1137.0 L983.5,1133.5 L985.5,1130.0 L987.5,1126.5 L989.5,1123.1 L991.5,1119.6 L993.5,1116.1 L995.5,1112.6 L997.5,1109.1 L999.5,1105.6 L1001.5,1102.1 L1003.5,1098.6 L1005.5,1095.1 L1007.5,1091.7 L1009.5,1088.2 L1011.5,1084.7 L1013.5,1081.2 L1015.5,1077.7 L1017.5,1074.2 L1019.5,1070.7 L1021.5,1067.2 L1023.5,1063.8 L1025.5,1060.3 L1027.5,1056.8 L1029.5,1053.3 L1031.5,1049.8 L1033.6,1046.4 L1035.6,1042.9 L1037.6,1039.4 L1039.7,1036.0 L1041.7,1032.5 L1043.8,1029.0 L1045.8,1025.6 L1047.9,1022.1 L1050.0,1018.7 L1052.1,1015.2 L1054.1,1011.8 L1056.2,1008.4 L1058.4,1005.0 L1060.5,1001.5 L1062.6,998.1 L1064.7,994.7 L1066.9,991.3 L1069.0,987.9 L1071.2,984.5 L1073.4,981.1 L1075.5,977.8 L1077.7,974.4 L1079.9,971.0 L1082.1,967.7 L1084.4,964.3 L1086.6,961.0 L1088.9,957.6 L1091.1,954.3 L1093.4,951.0 L1095.7,947.7 L1098.0,944.4 L1100.3,941.1 L1102.6,937.8 L1104.9,934.5 L1107.3,931.3 L1109.6,928.0 L1112.0,924.8 L1114.4,921.5 L1116.8,918.3 L1119.2,915.1 L1121.6,911.8 L1124.0,908.6 L1126.4,905.4 L1128.9,902.2 L1131.3,899.0 L1133.7,895.8 L1136.2,892.6 L1138.7,889.5 L1141.1,886.3 L1143.6,883.1 L1146.1,879.9 L1148.6,876.8 L1151.0,873.6 L1153.5,870.5 L1156.0,867.3 L1158.5,864.2 L1161.0,861.0 L1163.6,857.9 L1166.1,854.7 L1168.6,851.6 L1171.1,848.5 L1173.7,845.4 L1176.2,842.3 L1178.8,839.2 L1181.4,836.1 L1183.9,833.0 L1186.5,829.9 L1189.1,826.8 L1191.7,823.8 L1194.4,820.7 L1197.0,817.7 L1199.6,814.7 L1202.3,811.6 L1205.0,808.6 L1207.6,805.6 L1210.3,802.6 L1213.0,799.7 L1215.7,796.7 L1218.5,793.7 L1221.2,790.8 L1224.0,787.8 L1226.7,784.9 L1229.5,782.0 L1232.3,779.1 L1235.1,776.2 L1237.9,773.3 L1240.7,770.5 L1243.5,767.6 L1246.4,764.8 L1249.2,761.9 L1252.1,759.1 L1255.0,756.3 L1257.9,753.6 L1260.8,750.8 L1263.8,748.0 L1266.7,745.3 L1269.7,742.6 L1272.7,739.9 L1275.7,737.2 L1278.7,734.6 L1281.8,732.0 L1284.8,729.3 L1287.9,726.8 L1291.0,724.2 L1294.1,721.6 L1297.2,719.1 L1300.3,716.5 L1303.4,714.0 L1306.6,711.5 L1309.7,709.0 L1312.9,706.5 L1316.1,704.0 L1319.2,701.6 L1322.4,699.1 L1325.6,696.7 L1328.8,694.3 L1332.0,691.8 L1335.3,689.4 L1338.5,687.0 L1341.7,684.6 L1345.0,682.2 L1348.2,679.8 L1351.4,677.4 L1354.7,675.1 L1358.0,672.7 L1361.3,670.4 L1364.6,668.1 L1367.9,665.8 L1371.2,663.5 L1374.5,661.3 L1377.8,659.1 L1381.2,656.8 L1384.6,654.7 L1388.0,652.5 L1391.4,650.4 L1394.8,648.2 L1398.2,646.1 L1401.6,644.1 L1405.1,642.0 L1408.6,640.0 L1412.1,638.0 L1415.6,636.0 L1419.1,634.0 L1422.6,632.1 L1426.1,630.2 L1429.7,628.2 L1433.2,626.4 L1436.8,624.5 L1440.3,622.6 L1443.9,620.8 L1447.5,618.9 L1451.1,617.1 L1454.7,615.3 L1458.3,613.5 L1461.9,611.8 L1465.5,610.0 L1469.1,608.2 L1472.8,606.5 L1476.4,604.7 L1480.0,603.0 L1484.0,601.3 L1488.0,599.6 L1492.0,598.0 L1496.0,596.5 L1500.0,594.9 L1504.0,593.4 L1508.0,591.9 L1512.0,590.4 L1516.0,588.9 L1520.0,587.4 L1524.0,585.8 L1528.0,584.2 L1532.0,582.7 L1536.0,581.1 L1540.0,579.5 L1544.0,577.9 L1548.0,576.3 L1552.0,574.8 L1556.0,573.3 L1560.0,571.8 L1564.0,570.3 L1568.0,568.8 L1572.0,567.4 L1576.0,566.0 L1580.0,564.6 L1584.0,563.2 L1588.0,561.8 L1592.0,560.4 L1596.0,559.0 L1600.0,557.6 L1604.0,556.2 L1608.0,554.7 L1612.0,553.2 L1616.0,551.8 L1620.0,550.3 L1624.0,548.8 L1628.0,547.4 L1632.0,546.1 L1636.0,544.8 L1640.0,543.6 L1644.0,542.5 L1648.0,541.4 L1652.0,540.3 L1656.0,539.3 L1660.0,538.3 L1664.0,537.3 L1668.0,536.3 L1672.0,535.4 L1676.0,534.5 L1680.0,533.5 L1684.0,532.6 L1688.0,531.8 L1692.0,530.9 L1696.0,530.0 L1700.0,529.1 L1704.0,528.2 L1708.0,527.3 L1712.0,526.4 L1716.0,525.4 L1720.0,524.5 L1724.0,523.5 L1728.0,522.6 L1732.0,521.6 L1736.0,520.6 L1740.0,519.6 L1744.0,518.5 L1748.0,517.5 L1752.0,516.5 L1756.0,515.5 L1760.0,514.5 L1764.0,513.5 L1768.0,512.5 L1772.0,511.5 L1776.0,510.6 L1780.0,509.6 L1784.0,508.7 L1788.0,507.8 L1792.0,507.0 L1796.0,506.1 L1800.0,505.3 L1804.0,504.5 L1808.0,503.7 L1812.0,503.0 L1816.0,502.2 L1820.0,501.5 L1824.0,500.7 L1828.0,500.0 L1832.0,499.3 L1836.0,498.6 L1840.0,497.9 L1844.0,497.3 L1848.0,496.6 L1852.0,495.9 L1856.0,495.3 L1860.0,494.7 L1864.0,494.0 L1868.0,493.4 L1872.0,492.8 L1876.0,492.2 L1880.0,491.6 L1884.0,491.0 L1888.0,490.4 L1892.0,489.8 L1896.0,489.2 L1900.0,488.6 L1904.0,488.0 L1908.0,487.5 L1912.0,486.9 L1916.0,486.4 L1920.0,485.8 L1924.0,485.3 L1928.0,484.7 L1932.0,484.2 L1936.0,483.7 L1940.0,483.2 L1944.0,482.7 L1948.0,482.2 L1952.0,481.7 L1956.0,481.2 L1960.0,480.7 L1964.0,480.2 L1968.0,479.8 L1972.0,479.3 L1976.0,478.8 L1980.0,478.4 L1984.0,477.9 L1988.0,477.5 L1992.0,477.1 L1996.0,476.6 L2000.0,476.2 L2004.0,475.8 L2008.0,475.4 L2012.0,475.0 L2016.0,474.5 L2020.0,474.1 L2024.0,473.7 L2028.0,473.3 L2032.0,472.9 L2036.0,472.4 L2040.0,472.0 L2044.0,471.6 L2048.0,471.1 L2052.0,470.7 L2056.0,470.2 L2060.0,469.8 L2064.0,469.4 L2068.0,468.9 L2072.0,468.5 L2076.0,468.0 L2080.0,467.6 L2084.0,467.1 L2088.0,466.7 L2092.0,466.3 L2096.0,465.9 L2100.0,465.4 L2104.0,465.0 L2108.0,464.6 L2112.0,464.2 L2116.0,463.9 L2120.0,463.5 L2124.0,463.1 L2128.0,462.8 L2132.0,462.4 L2136.0,462.1 L2140.0,461.8 L2144.0,461.4 L2148.0,461.1 L2152.0,460.8 L2156.0,460.5 L2160.0,460.1 L2164.0,459.8 L2168.0,459.5 L2172.0,459.2 L2176.0,458.9 L2180.0,458.6 L2184.0,458.3 L2188.0,458.1 L2192.0,457.8 L2196.0,457.5 L2200.0,457.2 L2204.0,456.9 L2208.0,456.6 L2212.0,456.4 L2216.0,456.1 L2220.0,455.8 L2224.0,455.6 L2228.0,455.3 L2232.0,455.0 L2236.0,454.8 L2240.0,454.5 L2244.0,454.3 L2248.0,454.0 L2252.0,453.8 L2256.0,453.5 L2260.0,453.3 L2264.0,453.0 L2268.0,452.8 L2272.0,452.6 L2276.0,452.3 L2278.6,452.2"/>
</g>
<rect x="1764" y="816" width="478.5" height="664" fill="#fff"/>
<g class="crv" style="stroke-width:30.4">
<line x1="1813" y1="898.9" x2="2041" y2="898.9" stroke="#6dcbdc"/>
<line x1="1813" y1="1067.5" x2="2041" y2="1067.5" stroke="#3851a3"/>
<line x1="1813" y1="1236.1" x2="2041" y2="1236.1" stroke="#ed1c24"/>
<line x1="1813" y1="1404.8" x2="2041" y2="1404.8" stroke="#1d3a1d"/>
</g>
<text class="lg" x="2094.4" y="918.7">V<tspan x="2155.8" dy="-29.7" font-size="64">exp</tspan><tspan x="2155.8" dy="61.8" font-size="46.3">112</tspan></text>
<text class="lg" x="2094.4" y="1091.7">V<tspan x="2155.8" dy="-29.7" font-size="64">sim</tspan><tspan x="2155.8" dy="61.8" font-size="46.3">112</tspan></text>
<text class="lg" x="2094.4" y="1259.7">V<tspan x="2155.8" dy="-29.7" font-size="64">exp</tspan><tspan x="2155.8" dy="61.8" font-size="46.3">56</tspan></text>
<text class="lg" x="2094.4" y="1428.9">V<tspan x="2155.8" dy="-29.7" font-size="64">sim</tspan><tspan x="2155.8" dy="61.8" font-size="46.3">56</tspan></text>
<g stroke="#050505" stroke-width="5" stroke-linecap="square" fill="none">
<line x1="278.5" y1="1518.5" x2="278.5" y2="1480.5" stroke="#262626"/>
<line x1="678.6" y1="1518.5" x2="678.6" y2="1480.5"/>
<line x1="1079.5" y1="1518.5" x2="1079.5" y2="1480.5"/>
<line x1="1475.5" y1="1518.5" x2="1475.5" y2="1480.5"/>
<line x1="1876.5" y1="1518.5" x2="1876.5" y2="1480.5"/>
<line x1="2277.5" y1="1518.5" x2="2277.5" y2="1480.5"/>
<line x1="278.5" y1="1518.5" x2="316.5" y2="1518.5" stroke="#262626"/>
<line x1="278.5" y1="1152.0" x2="316.5" y2="1152.0"/>
<line x1="278.5" y1="785.4" x2="316.5" y2="785.4"/>
<line x1="278.5" y1="418.4" x2="316.5" y2="418.4"/>
<line x1="278.5" y1="51.5" x2="316.5" y2="51.5"/>
</g>
<g stroke="#262626" stroke-width="3" fill="none">
<line x1="278.5" y1="50.0" x2="278.5" y2="1520.0"/>
<line x1="277.0" y1="1518.5" x2="2279.0" y2="1518.5"/>
</g>
<text class="tl" x="249.1" y="1619.9">0</text>
<text class="tl" x="619.9" y="1619.9">50</text>
<text class="tl" x="991.1" y="1619.9">100</text>
<text class="tl" x="1392.0" y="1619.9">150</text>
<text class="tl" x="1793.8" y="1619.9">200</text>
<text class="tl" x="2194.7" y="1619.9">250</text>
<text class="tl" x="188.1" y="1547.9">0</text>
<text class="tl" x="107.3" y="1180.8">0.5</text>
<text class="tl" x="191.9" y="809.9">1</text>
<text class="tl" x="107.3" y="443.6">1.5</text>
<text class="tl" x="191.5" y="76.9">2</text>
<text class="al" x="1149.7" y="1730">t [ s ]</text>
<text class="al" transform="translate(106.8,1132.8) rotate(-90)">V(t) [1e<tspan font-size="72" dy="-32.8">6</tspan><tspan dy="32.8">mm</tspan><tspan font-size="72" dy="-32.8">3</tspan><tspan dy="32.8">]</tspan></text>
</svg>
</body></html>
